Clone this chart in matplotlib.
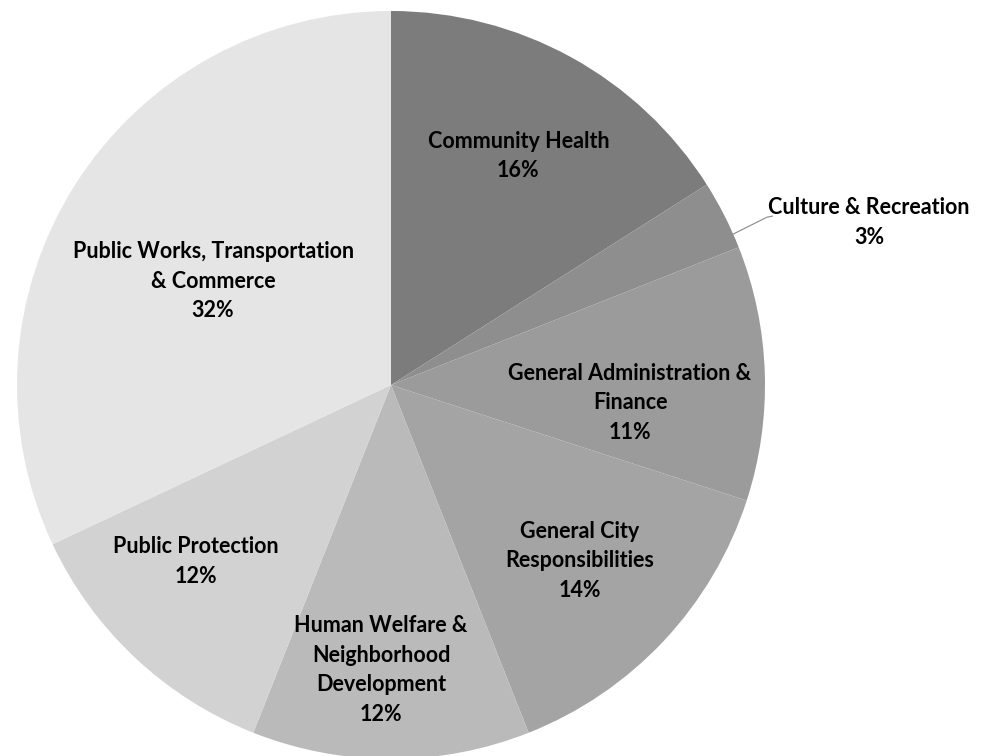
import matplotlib.pyplot as plt
import numpy as np

# budget share by service area
labels = ['Community Health', 'Culture & Recreation', 'General Administration &\nFinance',
          'General City\nResponsibilities', 'Human Welfare &\nNeighborhood\nDevelopment',
          'Public Protection', 'Public Works, Transportation\n& Commerce']
shares = [16, 3, 11, 14, 12, 12, 32]
colors = ['#7c7c7c', '#8e8e8e', '#9b9b9b', '#a4a4a4', '#bababa', '#d2d2d2', '#e5e5e5']

# label placement (fraction of radius, angle shift in degrees)
lab_r = [0.70, 1.35, 0.641, 0.69, 0.762, 0.703, 0.551]
lab_da = [-0.3, -8.2, -6.1, 0.2, -2, -4.7, 2.1]

plt.rcParams['font.family'] = ['Lato', 'DejaVu Sans']

fig = plt.figure(figsize=(9.87, 7.56), dpi=100)
ax = fig.add_axes([17 / 987, -3 / 756, 748 / 987, 748 / 756])

wedges, _ = ax.pie(shares, colors=colors, startangle=90, counterclock=False,
                   radius=1, wedgeprops=dict(linewidth=0))
ax.set_xlim(-1, 1)
ax.set_ylim(-1, 1)
ax.set_aspect('equal')
ax.axis('off')

for i, w in enumerate(wedges):
    mid = (w.theta1 + w.theta2) / 2 + lab_da[i]
    x = lab_r[i] * np.cos(np.radians(mid))
    y = lab_r[i] * np.sin(np.radians(mid))
    txt = '{}\n{}%'.format(labels[i], shares[i])
    ax.text(x, y, txt, ha='center', va='center', fontsize=15.5, fontweight='bold',
            linespacing=1.5, color='black', clip_on=False)
    if i == 1:
        # leader line for the small slice
        a = np.radians((w.theta1 + w.theta2) / 2 - 3.2)
        x0, y0 = np.cos(a), np.sin(a)
        ax.plot([x0, x0 + 0.09, x0 + 0.105], [y0, y0 + 0.045, y0 + 0.048],
                color='#888888', lw=0.8, clip_on=False)

plt.savefig('out.png', dpi=100)
